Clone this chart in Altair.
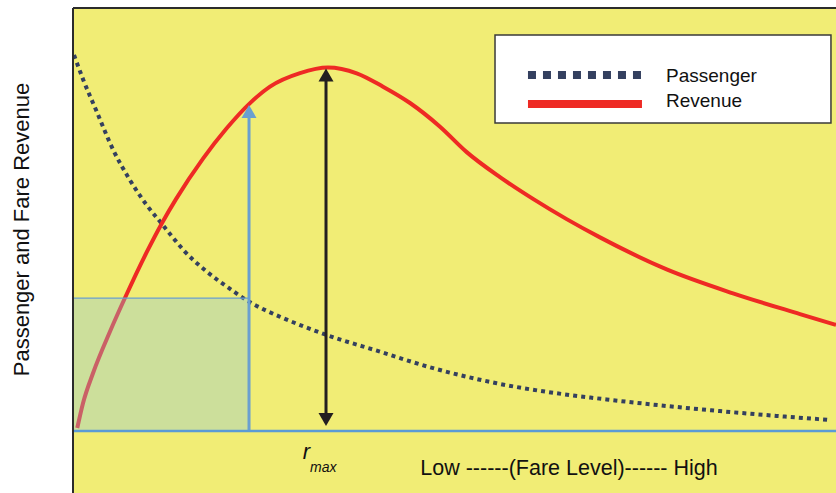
import altair as alt
import pandas as pd

FONT = "Liberation Sans"

# Passenger volume versus fare level (fare 0-100, relative units)
PASS_FARE = [0.13, 1.35, 3.11, 5.28, 7.47, 9.66, 11.40, 13.15, 14.46, 17.52, 20.58,
             23.42, 25.39, 27.13, 33.25, 40.24, 46.79, 55.53, 64.26, 69.72, 77.81,
             86.54, 99.21]
PASSENGERS = [88.9, 83.0, 75.5, 66.4, 59.3, 53.4, 49.5, 45.6, 42.8, 37.7, 33.6,
              30.2, 28.4, 27.0, 22.7, 18.75, 15.06, 11.28, 8.7, 7.5, 5.91,
              4.42, 2.60]

# Fare revenue versus fare level
REV_FARE = [0.56, 1.31, 2.62, 4.85, 6.82, 9.66, 11.80, 13.50, 17.04, 20.14, 23.20,
            25.82, 29.75, 33.42, 37.18, 40.63, 44.17, 48.10, 51.60, 55.96, 60.29,
            64.70, 69.07, 77.81, 86.50, 95.28, 100.0]
REVENUE = [0.7, 6.57, 13.66, 23.52, 31.49, 42.27, 49.60, 54.82, 64.40, 71.56, 77.52,
           81.40, 84.59, 85.91, 84.56, 81.40, 77.54, 71.94, 65.93, 60.02, 54.87,
           50.09, 45.77, 38.20, 32.55, 27.64, 25.08]

# A low fare, the passengers it carries and the revenue it earns
LOW_FARE = 23.07
LOW_FARE_PASSENGERS = 31.4
LOW_FARE_REVENUE = 77.3

# Revenue-maximising fare
R_MAX_FARE = 33.16
R_MAX_REVENUE = max(REVENUE)

# Legend
LEGEND_LABELS = ["Passenger", "Revenue"]
LEGEND_BOX = {"x": 55.31, "x2": 99.34, "y": 72.81, "y2": 93.62}
LEGEND_LINE_X = [59.63, 74.57]
LEGEND_LINE_Y = [84.16, 77.30]
LEGEND_TEXT_X = 77.72
LEGEND_TEXT_Y = [82.58, 76.52]

X_MIN, X_MAX = 0, 100
Y_MIN, Y_MAX = -14.66, 100

NAVY = "#34405f"
RED = "#ee2a24"
BLUE = "#6a9fd0"
BASE_BLUE = "#5b9bd5"
INK = "#231f20"

xs = alt.Scale(domain=[X_MIN, X_MAX], nice=False, zero=False)
ys = alt.Scale(domain=[Y_MIN, Y_MAX], nice=False, zero=False)

x_axis = alt.Axis(
    title="Low ------(Fare Level)------ High", domain=False, ticks=False,
    labels=False, grid=False, titleX=495.5, titleY=-19, titleAlign="center",
    titleBaseline="alphabetic", titleFont=FONT, titleFontSize=21.5,
    titleFontWeight="normal", titleColor="#111111",
)
y_axis = alt.Axis(
    title="Passenger and Fare Revenue", domain=False, ticks=False,
    labels=False, grid=False, titleX=-44.3, titleY=221, titleAlign="center",
    titleBaseline="alphabetic", titleFont=FONT, titleFontSize=22,
    titleFontWeight="normal", titleColor="#111111",
)


def X(field):
    return alt.X(field, type="quantitative", scale=xs, axis=x_axis)


def Y(field):
    return alt.Y(field, type="quantitative", scale=ys, axis=y_axis)


passenger_df = pd.DataFrame({"fare": PASS_FARE, "value": PASSENGERS})
revenue_df = pd.DataFrame({"fare": REV_FARE, "value": REVENUE})

passenger_line = alt.Chart(passenger_df).mark_line(
    interpolate="monotone", color=NAVY, strokeWidth=4, strokeDash=[4, 4.1],
    strokeCap="butt",
).encode(x=X("fare"), y=Y("value"))

revenue_line = alt.Chart(revenue_df).mark_line(
    interpolate="monotone", color=RED, strokeWidth=4, strokeCap="butt",
).encode(x=X("fare"), y=Y("value"))

# Revenue at the low fare: fare x passengers
area_df = pd.DataFrame([{"x": X_MIN, "x2": LOW_FARE, "y": 0, "y2": LOW_FARE_PASSENGERS}])
revenue_box = alt.Chart(area_df).mark_rect(
    fill="#88c6e1", fillOpacity=0.35, stroke=BLUE, strokeWidth=1.2,
).encode(x=X("x"), x2="x2", y=Y("y"), y2="y2")

low_df = pd.DataFrame([{"x": LOW_FARE, "y": 0, "y2": LOW_FARE_REVENUE}])
low_shaft = alt.Chart(low_df).mark_rule(color=BLUE, strokeWidth=3, y2Offset=7).encode(
    x=X("x"), y=Y("y"), y2="y2")
low_head = alt.Chart(low_df).mark_point(
    shape="triangle-up", size=225, filled=True, color=BLUE, opacity=1, yOffset=7.5,
).encode(x=X("x"), y=Y("y2"))

rmax_df = pd.DataFrame([{"x": R_MAX_FARE, "y": 0.95, "y2": R_MAX_REVENUE}])
rmax_shaft = alt.Chart(rmax_df).mark_rule(
    color=INK, strokeWidth=3, yOffset=-7, y2Offset=7,
).encode(x=X("x"), y=Y("y"), y2="y2")
rmax_top = alt.Chart(rmax_df).mark_point(
    shape="triangle-up", size=225, filled=True, color=INK, opacity=1, yOffset=7.5,
).encode(x=X("x"), y=Y("y2"))
rmax_bottom = alt.Chart(rmax_df).mark_point(
    shape="triangle-down", size=225, filled=True, color=INK, opacity=1, yOffset=-7.5,
).encode(x=X("x"), y=Y("y"))

base_df = pd.DataFrame([{"x": X_MIN, "x2": X_MAX, "y": 0}])
baseline = alt.Chart(base_df).mark_rule(color=BASE_BLUE, strokeWidth=2.5).encode(
    x=X("x"), x2="x2", y=Y("y"))

frame_left = alt.Chart(pd.DataFrame([{"x": X_MIN, "y": Y_MIN, "y2": Y_MAX}])).mark_rule(
    color="#2b2b2b", strokeWidth=2).encode(x=X("x"), y=Y("y"), y2="y2")
frame_top = alt.Chart(pd.DataFrame([{"x": X_MIN, "x2": X_MAX, "y": Y_MAX}])).mark_rule(
    color="#2b2b2b", strokeWidth=2).encode(x=X("x"), x2="x2", y=Y("y"))

# r_max label under the peak
rmax_label_df = pd.DataFrame([
    {"x": 30.58, "y": -6.69, "t": "r"},
    {"x": 31.06, "y": -9.62, "t": "max"},
])
rmax_r = alt.Chart(rmax_label_df.iloc[[0]]).mark_text(
    font=FONT, fontStyle="italic", fontSize=22, align="center", baseline="alphabetic",
    color="#111111",
).encode(x=X("x"), y=Y("y"), text="t:N")
rmax_sub = alt.Chart(rmax_label_df.iloc[[1]]).mark_text(
    font=FONT, fontStyle="italic", fontSize=14, align="left", baseline="alphabetic",
    color="#111111",
).encode(x=X("x"), y=Y("y"), text="t:N")

# Legend
legend_box = alt.Chart(pd.DataFrame([LEGEND_BOX])).mark_rect(
    fill="white", stroke="#3a3a3a", strokeWidth=1.5,
).encode(x=X("x"), x2="x2", y=Y("y"), y2="y2")
legend_pass = alt.Chart(pd.DataFrame([{
    "x": LEGEND_LINE_X[0], "x2": LEGEND_LINE_X[1], "y": LEGEND_LINE_Y[0]}])).mark_rule(
    color=NAVY, strokeWidth=8, strokeDash=[8, 7], strokeCap="butt",
).encode(x=X("x"), x2="x2", y=Y("y"))
legend_rev = alt.Chart(pd.DataFrame([{
    "x": LEGEND_LINE_X[0], "x2": LEGEND_LINE_X[1], "y": LEGEND_LINE_Y[1]}])).mark_rule(
    color=RED, strokeWidth=8, strokeCap="butt",
).encode(x=X("x"), x2="x2", y=Y("y"))
legend_text = alt.Chart(pd.DataFrame({
    "x": [LEGEND_TEXT_X] * 2, "y": LEGEND_TEXT_Y, "t": LEGEND_LABELS})).mark_text(
    font=FONT, fontSize=19, align="left", baseline="alphabetic", color="#111111",
).encode(x=X("x"), y=Y("y"), text="t:N")

chart = alt.layer(
    passenger_line, revenue_line, revenue_box, low_shaft, low_head,
    rmax_shaft, rmax_top, rmax_bottom, baseline, frame_left, frame_top,
    rmax_r, rmax_sub, legend_box, legend_pass, legend_rev, legend_text,
).properties(
    width=763, height=485,
    padding={"left": 73, "top": 8, "right": 0, "bottom": 0},
    autosize=alt.AutoSizeParams(type="none"),
    background="white",
).configure_view(fill="#f1ed75", stroke="transparent")

chart.save("out.html", embed_options={"renderer": "svg", "actions": False})
